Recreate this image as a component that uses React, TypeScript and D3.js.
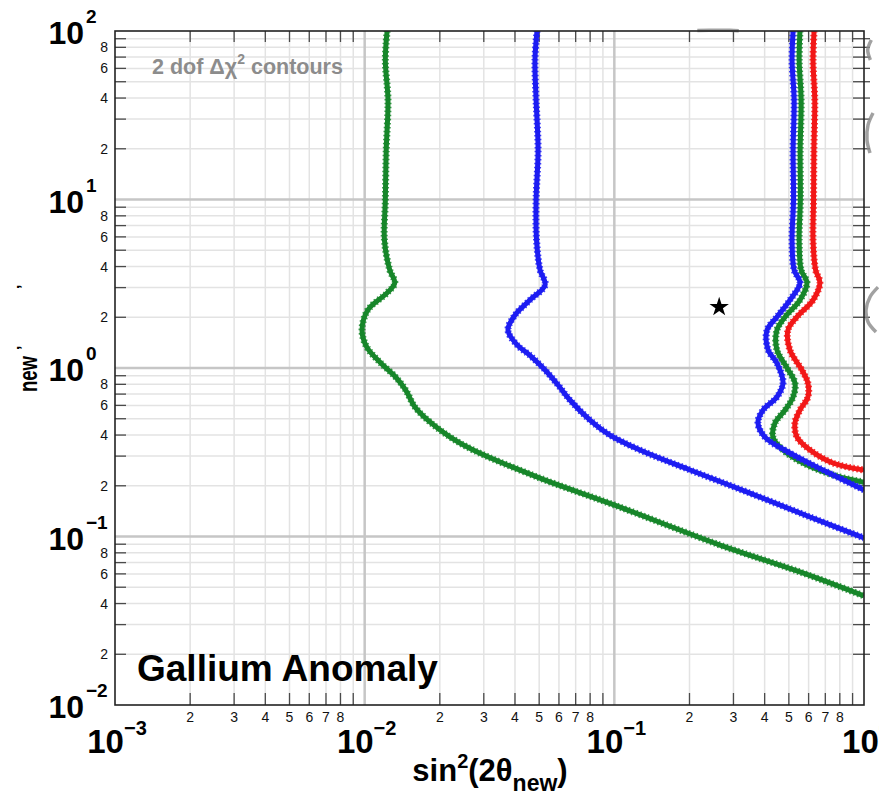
import React from "react";
import * as d3 from "d3";

// ---------- data ----------
const xDecades = [1e-3, 1e-2, 1e-1, 1];
const xDecadeExp = ["−3", "−2", "−1", "0"];
const yDecades = [1e-2, 1e-1, 1, 10, 100];
const yDecadeExp = ["−2", "−1", "0", "1", "2"];
const minorMults = [2, 3, 4, 5, 6, 7, 8, 9];
const xMinorLabels = [2, 3, 4, 5, 6, 7, 8];
const yMinorLabels = [2, 4, 6, 8];

// contour: green (left)
const greenLeft: [number, number][] = [
  [0.0123, 100], [0.0121, 67], [0.0124, 39], [0.0122, 19.7], [0.0121, 9.9],
  [0.012, 5.75], [0.0126, 3.82], [0.0132, 3.2], [0.0123, 2.79], [0.0103, 2.21],
  [0.00976, 1.68], [0.0102, 1.33], [0.0116, 1.07], [0.0133, 0.884], [0.0146, 0.74],
  [0.0159, 0.587], [0.0182, 0.48], [0.022, 0.389], [0.0272, 0.326], [0.0504, 0.222],
  [0.0997, 0.154], [0.265, 0.089], [0.554, 0.0616], [1.0, 0.0444],
];
// contour: blue (middle)
const blueMid: [number, number][] = [
  [0.049, 100], [0.0481, 67], [0.0486, 39], [0.0495, 19.7], [0.0486, 9.9],
  [0.0488, 5.75], [0.0504, 3.82], [0.0528, 3.11], [0.0459, 2.53], [0.04, 2.06],
  [0.0375, 1.68], [0.0408, 1.37], [0.0459, 1.19], [0.0528, 0.973], [0.0595, 0.793],
  [0.0664, 0.646], [0.0799, 0.491], [0.096, 0.4], [0.1267, 0.326], [0.201, 0.248],
  [0.349, 0.181], [0.608, 0.1305], [1.0, 0.098],
];
// right cluster
const blueRight: [number, number][] = [
  [0.52, 100], [0.515, 67], [0.525, 39], [0.52, 19.7], [0.522, 9.9], [0.515, 5.75],
  [0.525, 3.82], [0.554, 3.2], [0.505, 2.53], [0.448, 2.01], [0.409, 1.68],
  [0.413, 1.28], [0.448, 1.07], [0.474, 0.815], [0.448, 0.673], [0.394, 0.563],
  [0.376, 0.472], [0.401, 0.389], [0.505, 0.313], [0.685, 0.248], [1.0, 0.189],
];
const greenRight: [number, number][] = [
  [0.554, 100], [0.55, 67], [0.56, 39], [0.555, 19.7], [0.556, 9.9], [0.55, 5.75],
  [0.56, 3.82], [0.591, 3.2], [0.554, 2.53], [0.483, 2.01], [0.448, 1.68],
  [0.448, 1.28], [0.492, 1.0], [0.529, 0.815], [0.52, 0.673], [0.483, 0.563],
  [0.44, 0.472], [0.432, 0.389], [0.474, 0.326], [0.57, 0.273], [0.78, 0.228], [1.0, 0.21],
];
const redRight: [number, number][] = [
  [0.631, 100], [0.625, 67], [0.635, 39], [0.63, 19.7], [0.628, 9.9], [0.625, 5.75],
  [0.64, 3.82], [0.666, 3.2], [0.625, 2.53], [0.539, 2.01], [0.496, 1.68],
  [0.505, 1.28], [0.564, 0.973], [0.596, 0.815], [0.596, 0.673], [0.554, 0.563],
  [0.529, 0.472], [0.539, 0.389], [0.608, 0.326], [0.751, 0.273], [1.0, 0.248],
];
const bestFit: [number, number] = [0.263, 2.3];

// grey remnants outside the frame
const greyBits: [number, number][][] = [
  [[1.138, 3.02], [1.057, 2.64], [1.019, 2.21], [1.038, 1.876], [1.117, 1.635]],
  [[1.087, 32.6], [1.038, 27.7], [1.028, 22.5], [1.057, 18.9]],
  [[1.07, 88.4], [1.035, 77.1], [1.06, 67.3]],
  [[0.215, 100.6], [0.24, 101], [0.29, 101], [0.315, 100.4]],
];

const series = [
  { pts: greenLeft, color: "#17862a" },
  { pts: blueMid, color: "#1d1df2" },
  { pts: redRight, color: "#f21818" },
  { pts: greenRight, color: "#17862a" },
  { pts: blueRight, color: "#1d1df2" },
];

// ---------- layout ----------
const W = 879, H = 803;
const L = 115, T = 31, R = 864, B = 705;
const FONT = "'Liberation Sans', Arial, Helvetica, sans-serif";

export default function App() {
  const x = d3.scaleLog().domain([1e-3, 1]).range([L, R]);
  const y = d3.scaleLog().domain([1e-2, 100]).range([B, T]);
  const line = d3
    .line<[number, number]>()
    .x((d) => x(d[0]))
    .y((d) => y(d[1]))
    .curve(d3.curveCatmullRom.alpha(0.5));

  const xMinor: number[] = [];
  xDecades.slice(0, -1).forEach((d) => minorMults.forEach((m) => xMinor.push(d * m)));
  const yMinor: number[] = [];
  yDecades.slice(0, -1).forEach((d) => minorMults.forEach((m) => yMinor.push(d * m)));

  const star = d3.symbol().type(d3.symbolStar).size(118)();

  return (
    <svg width={W} height={H} style={{ position: "absolute", left: 0, top: 0, background: "#fff" }} fontFamily={FONT}>
      <defs>
        <clipPath id="plotclip">
          <rect x={L} y={T} width={R - L} height={B - T} />
        </clipPath>
      </defs>
      <rect x={0} y={0} width={W} height={H} fill="#fff" />

      {/* grid */}
      {xMinor.map((v, i) => (
        <line key={"gx" + i} x1={x(v)} x2={x(v)} y1={T} y2={B} stroke="#e3e3e3" strokeWidth={1.5} />
      ))}
      {yMinor.map((v, i) => (
        <line key={"gy" + i} x1={L} x2={R} y1={y(v)} y2={y(v)} stroke="#e3e3e3" strokeWidth={1.5} />
      ))}
      {xDecades.slice(1, -1).map((v, i) => (
        <line key={"gX" + i} x1={x(v)} x2={x(v)} y1={T} y2={B} stroke="#c6c6c6" strokeWidth={2.5} />
      ))}
      {yDecades.slice(1, -1).map((v, i) => (
        <line key={"gY" + i} x1={L} x2={R} y1={y(v)} y2={y(v)} stroke="#c6c6c6" strokeWidth={2.5} />
      ))}

      {/* ticks */}
      {xMinor.map((v, i) => (
        <g key={"tx" + i} stroke="#4a4a4a" strokeWidth={1.3}>
          <line x1={x(v)} x2={x(v)} y1={B} y2={B - 12} />
          <line x1={x(v)} x2={x(v)} y1={T} y2={T + 11} />
        </g>
      ))}
      {yMinor.map((v, i) => (
        <g key={"ty" + i} stroke="#4a4a4a" strokeWidth={1.3}>
          <line x1={L} x2={L + 11} y1={y(v)} y2={y(v)} />
          <line x1={R - 11} x2={R + 6} y1={y(v)} y2={y(v)} />
        </g>
      ))}

      {/* contours */}
      <g clipPath="url(#plotclip)">
        {series.map((s, i) => (
          <g key={"s" + i}>
            <path d={line(s.pts) || ""} fill="none" stroke={s.color} strokeWidth={5} strokeLinejoin="round" />
            <path d={line(s.pts) || ""} fill="none" stroke={s.color} strokeWidth={7} strokeDasharray="1.5 2.5" opacity={0.85} />
          </g>
        ))}
      </g>

      {/* grey remnants */}
      {greyBits.map((g, i) => (
        <path key={"gb" + i} d={line(g) || ""} fill="none" stroke="#8a8a8a" strokeWidth={3.5} opacity={0.8} />
      ))}

      {/* best fit star */}
      <path d={star || ""} transform={`translate(${x(bestFit[0])},${y(bestFit[1])})`} fill="#000" />

      {/* frame */}
      <rect x={L} y={T} width={R - L} height={B - T} fill="none" stroke="#222" strokeWidth={1.6} />

      {/* x minor labels */}
      {xDecades.slice(0, -1).map((d, i) =>
        xMinorLabels.map((m) => (
          <text key={"lx" + i + m} x={x(d * m)} y={722} textAnchor="middle" fontSize={14} fill="#111">
            {m}
          </text>
        ))
      )}
      {/* x decade labels */}
      {xDecades.map((d, i) => (
        <text key={"LX" + i} x={x(d) + 2} y={753} textAnchor="middle" fontSize={33} fontWeight="bold" fill="#000">
          10
          <tspan dy={-18} fontSize={20}>{xDecadeExp[i]}</tspan>
        </text>
      ))}

      {/* y minor labels */}
      {yDecades.slice(0, -1).map((d, i) =>
        yMinorLabels.map((m) => (
          <text key={"ly" + i + m} x={108} y={y(d * m) + 5} textAnchor="end" fontSize={14} fill="#111">
            {m}
          </text>
        ))
      )}
      {/* y decade labels */}
      {yDecades.map((d, i) => (
        <g key={"LY" + i}>
          <text x={84} y={y(d) + 13} textAnchor="end" fontSize={32} fontWeight="bold" fill="#000">
            10
          </text>
          <text x={86} y={y(d) - 8} textAnchor="start" fontSize={19} fontWeight="bold" fill="#000">
            {yDecadeExp[i]}
          </text>
        </g>
      ))}

      {/* axis titles */}
      <text x={490} y={781} textAnchor="middle" fontSize={31} fontWeight="bold" fill="#000">
        sin
        <tspan dy={-13} fontSize={20}>2</tspan>
        <tspan dy={13}>(2θ</tspan>
        <tspan dy={10} fontSize={23}>new</tspan>
        <tspan dy={-10}>)</tspan>
      </text>
      <text transform="translate(37,374) rotate(-90)" textAnchor="middle" fontSize={26} fontWeight="bold" fill="#000" textLength={36} lengthAdjust="spacingAndGlyphs">
        new
      </text>
      <text transform="translate(29,289) rotate(-90)" fontSize={16} fontWeight="bold" fill="#000">’</text>
      <text transform="translate(29,350) rotate(-90)" fontSize={16} fontWeight="bold" fill="#000">’</text>
      <text x={-10} y={746} fontSize={26} fontWeight="bold" fill="#333">)</text>

      {/* annotations */}
      <text x={152} y={74} fontSize={21.5} fontWeight="bold" fill="#8c8c8c">
        2 dof Δχ
        <tspan dy={-10} fontSize={14}>2</tspan>
        <tspan dy={10}> contours</tspan>
      </text>
      <text x={137} y={681} fontSize={37} fontWeight="bold" fill="#000">
        Gallium Anomaly
      </text>
    </svg>
  );
}
